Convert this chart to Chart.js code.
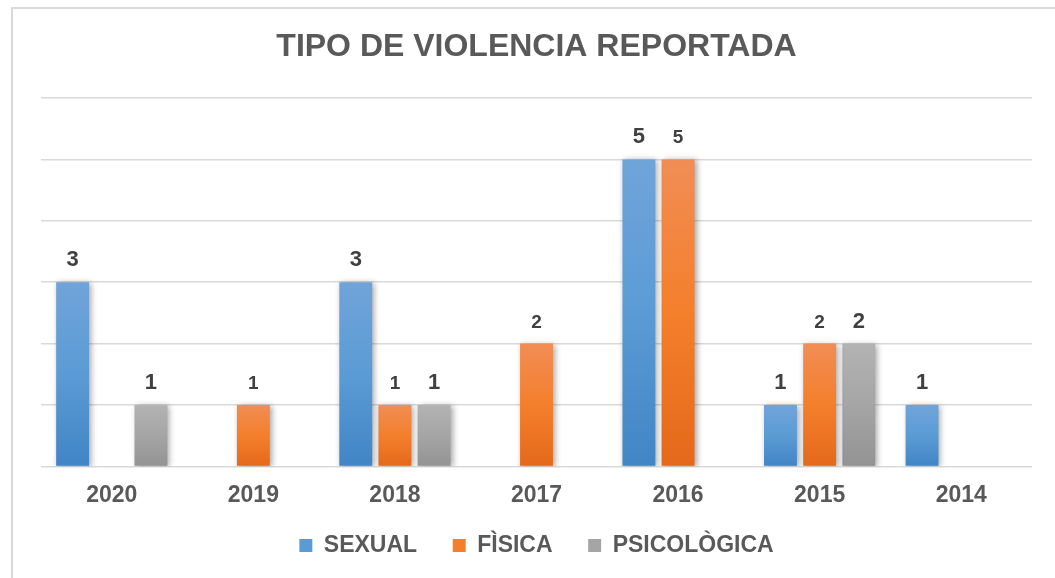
<!DOCTYPE html>
<html>
<head>
<meta charset="utf-8">
<script src="https://cdn.jsdelivr.net/npm/chart.js@4"></script>
<style>
  body { margin: 0; background: #fff; }
  #wrap { position: relative; width: 1055px; height: 578px; overflow: hidden; }
  #frame { position: absolute; left: 11px; top: 7px; width: 1100px; height: 620px; border: 2px solid #d9d9d9; box-sizing: border-box; }
  canvas { position: absolute; left: 0; top: 0; }
</style>
</head>
<body>
<div id="wrap">
  <div id="frame"></div>
  <canvas id="chart" width="1055" height="578"></canvas>
</div>
<script>
// Data
const years = ["2020", "2019", "2018", "2017", "2016", "2015", "2014"];
const sexualData = [3, 0, 3, 0, 5, 1, 1];
const fisicaData = [0, 1, 1, 2, 5, 2, 0];
const psicologicaData = [1, 0, 1, 0, 0, 2, 0];
const seriesNames = ["SEXUAL", "FÌSICA", "PSICOLÒGICA"];
const yTicks = [0, 1, 2, 3, 4, 5, 6];

const FONT = "'Liberation Sans', Arial, sans-serif";

// top / middle / bottom colors for each series
const palette = [
  ["#70a4d9", "#5b9bd5", "#4185c5"],
  ["#f18d55", "#f47f2b", "#e4691a"],
  ["#b3b3b3", "#a5a5a5", "#939393"],
];

function barGradient(seriesIndex) {
  return (context) => {
    const chart = context.chart;
    const { chartArea, scales } = chart;
    const colors = palette[seriesIndex];
    if (!chartArea || !scales.y) return colors[1];
    const value = context.raw || 0;
    const top = scales.y.getPixelForValue(value);
    const bottom = scales.y.getPixelForValue(0);
    if (bottom - top < 1) return colors[1];
    const g = chart.ctx.createLinearGradient(0, top, 0, bottom);
    g.addColorStop(0, colors[0]);
    g.addColorStop(0.5, colors[1]);
    g.addColorStop(1, colors[2]);
    return g;
  };
}

// soft shadow behind bars
const barShadow = {
  id: "barShadow",
  beforeDatasetsDraw(chart) {
    const ctx = chart.ctx;
    ctx.save();
    ctx.shadowColor = "rgba(0,0,0,0.35)";
    ctx.shadowBlur = 6;
    ctx.shadowOffsetX = 2;
    ctx.shadowOffsetY = 1;
  },
  afterDatasetsDraw(chart) {
    chart.ctx.restore();
  },
};

// value labels above bars (zeros are not labelled)
const valueLabels = {
  id: "valueLabels",
  afterDatasetsDraw(chart) {
    const ctx = chart.ctx;
    ctx.save();
    ctx.textAlign = "center";
    ctx.textBaseline = "alphabetic";
    ctx.fillStyle = "#404040";
    chart.data.datasets.forEach((ds, i) => {
      const meta = chart.getDatasetMeta(i);
      const size = i === 1 ? 19 : 22;
      ctx.font = "bold " + size + "px " + FONT;
      meta.data.forEach((bar, j) => {
        const v = ds.data[j];
        if (!v) return;
        ctx.fillText(String(v), bar.x, bar.y - 16);
      });
    });
    ctx.restore();
  },
};

const ctx = document.getElementById("chart").getContext("2d");

new Chart(ctx, {
  type: "bar",
  data: {
    labels: years,
    datasets: [
      { label: seriesNames[0], data: sexualData, backgroundColor: barGradient(0) },
      { label: seriesNames[1], data: fisicaData, backgroundColor: barGradient(1) },
      { label: seriesNames[2], data: psicologicaData, backgroundColor: barGradient(2) },
    ],
  },
  options: {
    responsive: false,
    animation: false,
    datasets: {
      bar: { categoryPercentage: 0.83, barPercentage: 0.84, borderWidth: 0 },
    },
    layout: { padding: { left: 41, right: 23, top: 0, bottom: 11 } },
    scales: {
      x: {
        grid: { display: false, drawTicks: false },
        border: { display: false },
        ticks: {
          color: "#595959",
          font: { family: FONT, size: 23, weight: "bold" },
          padding: 15,
        },
      },
      y: {
        min: yTicks[0],
        max: yTicks[yTicks.length - 1],
        afterBuildTicks: (axis) => {
          axis.ticks = yTicks.map((v) => ({ value: v }));
        },
        ticks: { display: false },
        border: { display: false },
        grid: { color: "#d9d9d9", lineWidth: 1.5, drawTicks: false },
      },
    },
    plugins: {
      title: {
        display: true,
        text: "TIPO DE VIOLENCIA REPORTADA",
        color: "#595959",
        font: { family: FONT, size: 32, weight: "bold" },
        padding: { top: 28, bottom: 31.6 },
      },
      legend: {
        position: "bottom",
        labels: {
          color: "#595959",
          font: { family: FONT, size: 23, weight: "bold" },
          boxWidth: 13,
          boxHeight: 13,
          padding: 10,
          // trailing spaces widen the gap between legend entries
          generateLabels: (chart) =>
            chart.data.datasets.map((ds, i) => ({
              text: i < chart.data.datasets.length - 1 ? ds.label + "    " : ds.label,
              fillStyle: palette[i][1],
              strokeStyle: palette[i][1],
              lineWidth: 0,
              fontColor: "#595959",
              datasetIndex: i,
            })),
        },
      },
      tooltip: { enabled: false },
    },
  },
  plugins: [barShadow, valueLabels],
});
</script>
</body>
</html>
